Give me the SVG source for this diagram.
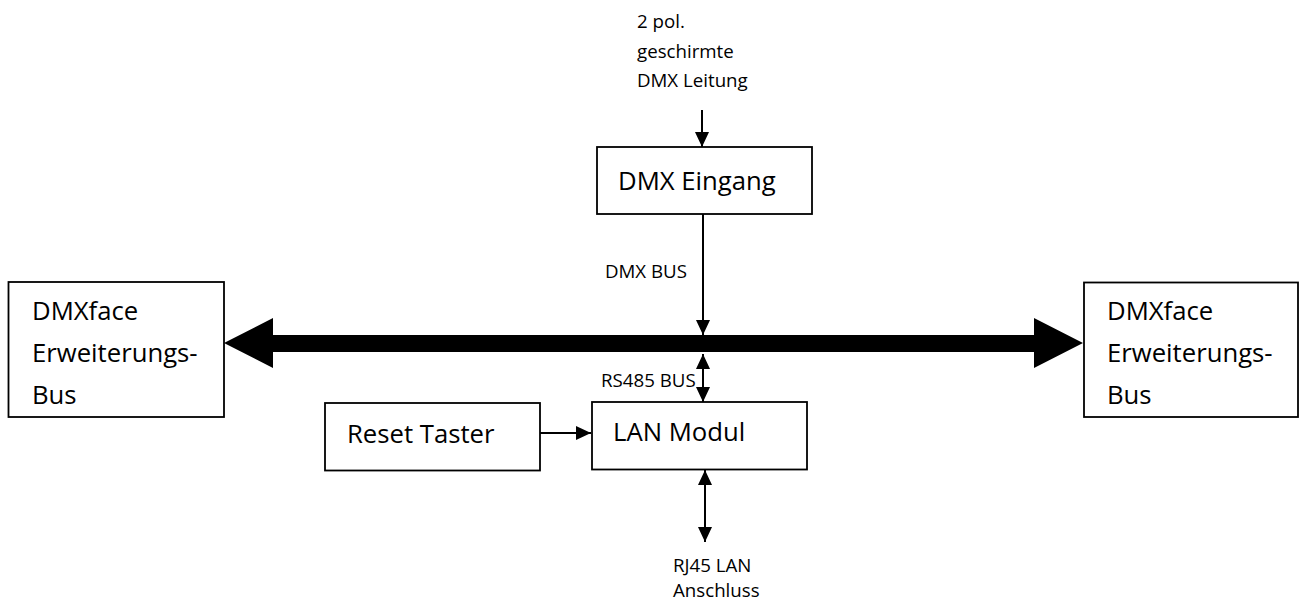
<svg xmlns="http://www.w3.org/2000/svg" width="1301" height="601" viewBox="0 0 1301 601">
<style>
.box{fill:#fff;stroke:#000;stroke-width:1.8}
.big{font-family:"Open Sans","Noto Sans",sans-serif;font-size:25.7px;fill:#000}
.sm{font-family:"Open Sans","Noto Sans",sans-serif;font-size:18.7px;fill:#000}
.ln{stroke:#000;stroke-width:2;fill:none}
</style>
<defs>
<marker id="ah" markerUnits="userSpaceOnUse" markerWidth="16" markerHeight="16" refX="15" refY="7" orient="auto-start-reverse">
<path d="M0,0 L15,7 L0,14 Z" fill="#000"/>
</marker>
</defs>
<rect width="1301" height="601" fill="#fff"/>
<g id="label-top">
<text class="sm" x="637" y="28">2 pol.</text>
<text class="sm" x="637" y="58">geschirmte</text>
<text class="sm" x="637" y="87">DMX Leitung</text>
</g>
<g id="dmx-eingang">
<rect class="box" x="597" y="147" width="215" height="67"/>
<text class="big" x="618" y="190">DMX Eingang</text>
</g>
<g id="erw-bus-left">
<rect class="box" x="8.5" y="282" width="215.5" height="135"/>
<text class="big" x="32" y="320">DMXface</text>
<text class="big" x="32" y="362">Erweiterungs-</text>
<text class="big" x="32" y="404">Bus</text>
</g>
<g id="erw-bus-right">
<rect class="box" x="1084" y="282.5" width="214" height="134.5"/>
<text class="big" x="1107" y="320">DMXface</text>
<text class="big" x="1107" y="362">Erweiterungs-</text>
<text class="big" x="1107" y="404">Bus</text>
</g>
<g id="reset-taster">
<rect class="box" x="325" y="403" width="215" height="67.5"/>
<text class="big" x="347" y="443">Reset Taster</text>
</g>
<g id="lan-modul">
<rect class="box" x="592" y="402" width="215" height="67.5"/>
<text class="big" x="613" y="441">LAN Modul</text>
</g>
<g id="connectors">
<line class="ln" x1="702" y1="110" x2="702" y2="147" marker-end="url(#ah)"/>
<line class="ln" x1="703" y1="214" x2="703" y2="335" marker-end="url(#ah)"/>
<line class="ln" x1="703" y1="354" x2="703" y2="402" marker-start="url(#ah)" marker-end="url(#ah)"/>
<line class="ln" x1="540" y1="433" x2="591" y2="433" marker-end="url(#ah)"/>
<line class="ln" x1="705" y1="470" x2="705" y2="542" marker-start="url(#ah)" marker-end="url(#ah)"/>
<polygon id="bus" points="224,343 273,318 273,335 1034,335 1034,318 1083,343 1034,368 1034,352 273,352 273,368" fill="#000"/>
<text class="sm" x="605" y="278">DMX BUS</text>
<text class="sm" x="601" y="387">RS485 BUS</text>
<text class="sm" x="673" y="572">RJ45 LAN</text>
<text class="sm" x="673" y="597">Anschluss</text>
</g>
</svg>
